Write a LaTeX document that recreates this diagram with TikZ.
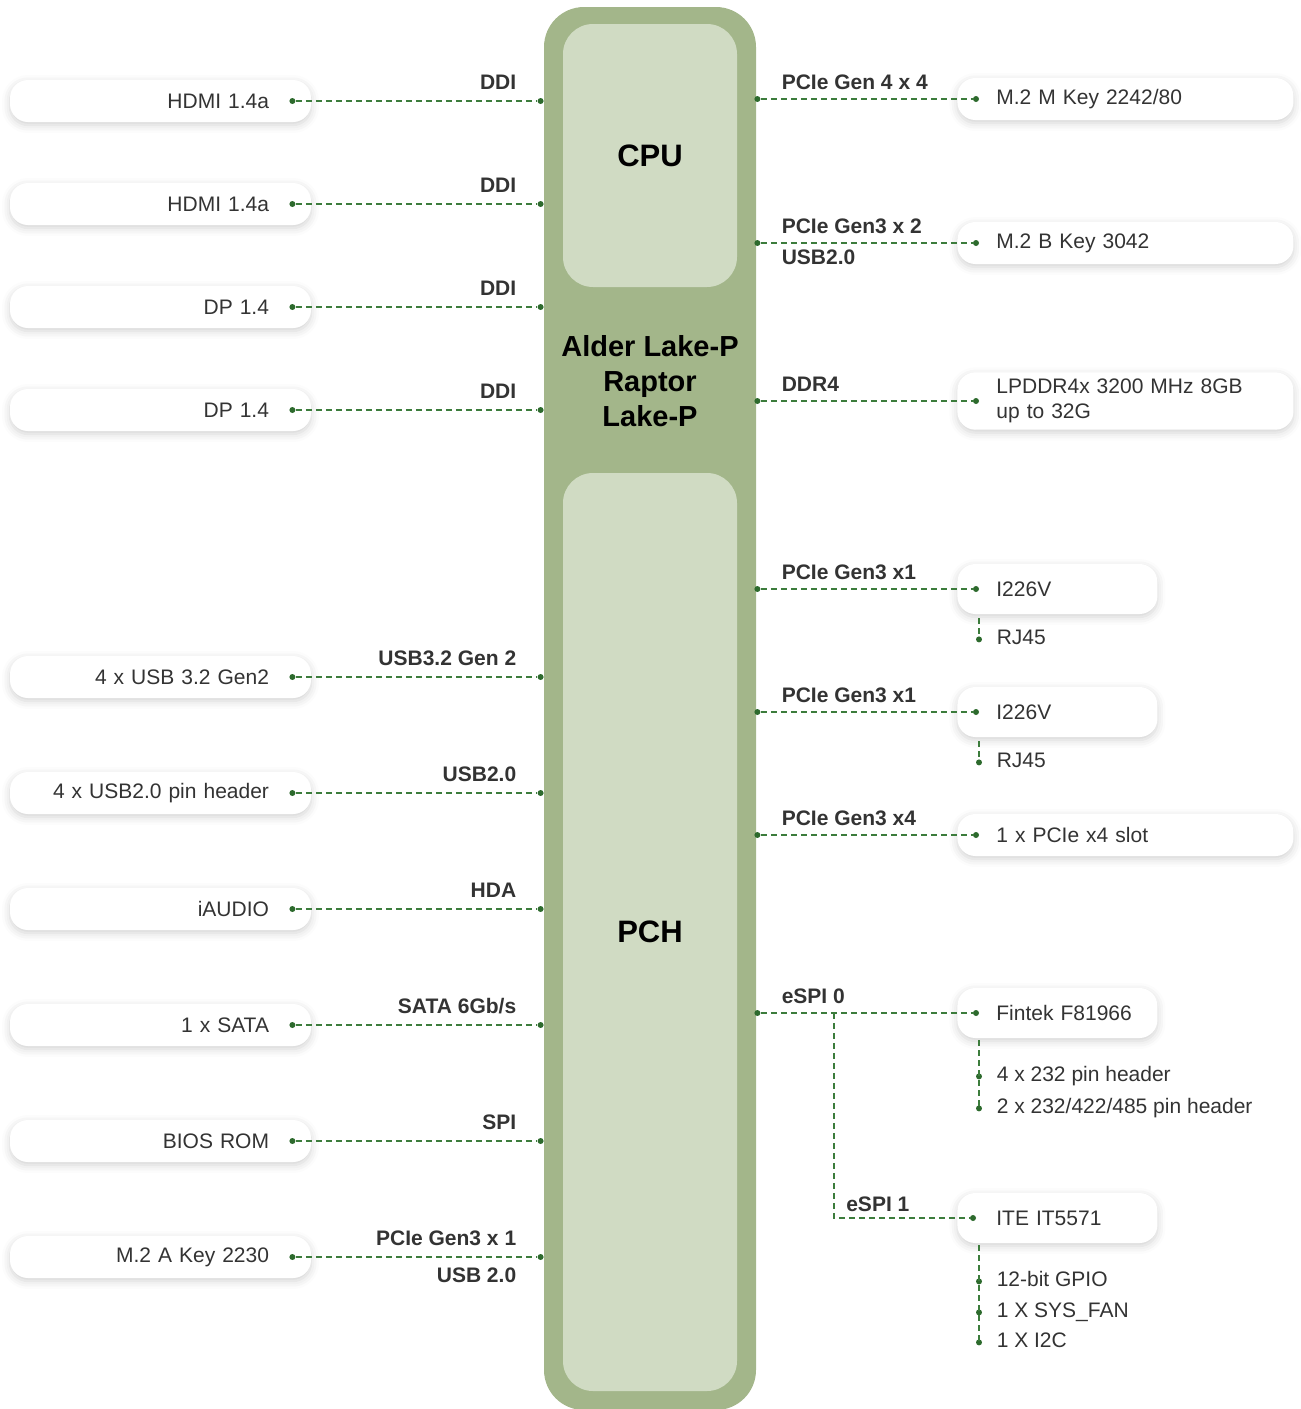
\documentclass[tikz,border=0pt]{standalone}
\usepackage{fontspec}
\setmainfont{Liberation Sans}
\usetikzlibrary{positioning,calc,shadows.blur}
\definecolor{socgreen}{HTML}{A3B68A}
\definecolor{corepale}{HTML}{D0DBC3}
\definecolor{buscol}{HTML}{3C7C3C}
\definecolor{dotcol}{HTML}{2D6A2D}
\definecolor{txtcol}{HTML}{333333}
\tikzset{
  portbox/.style={rounded corners=9pt, fill=white, text=txtcol,
    blur shadow={shadow xshift=0pt, shadow yshift=-1.5pt, shadow blur radius=4pt, shadow opacity=18},
    font=\fontsize{10.5}{12.5}\selectfont, minimum height=21pt},
  leftbox/.style={portbox, inner xsep=21pt, text width=108.5pt, align=right},
  widebox/.style={portbox, anchor=west, inner xsep=19.5pt, text width=129pt, align=left},
  narrowbox/.style={portbox, anchor=west, inner xsep=19.5pt, text width=61pt, align=left, minimum height=25pt},
  bus/.style={buscol, dash pattern=on 3pt off 2pt, line width=0.6pt},
  busname/.style={text=txtcol, inner sep=0pt, font=\bfseries\fontsize{10.5}{12.5}\selectfont},
  subitem/.style={text=txtcol, inner sep=0pt, anchor=mid west, font=\fontsize{10.5}{12.5}\selectfont},
  pin/.style={circle, fill=dotcol, inner sep=0pt, minimum size=3pt},
  coreblock/.style={fill=corepale, rounded corners=15pt, minimum width=87pt, font=\bfseries\fontsize{15.5}{18}\selectfont}
}
\begin{document}
\begin{tikzpicture}[x=0.5pt,y=-0.5pt]
  \useasboundingbox (0,0) rectangle (1301,1409);
  % SoC block
  \node[fill=socgreen, rounded corners=20pt, minimum width=106pt, minimum height=701.5pt] (soc) at (650,708.5) {};
  \node[coreblock, minimum height=131.5pt] (cpu) at (650,155.5) {CPU};
  \node[coreblock, minimum height=459pt] (pch) at (650,932) {PCH};
  \node[align=center, font=\bfseries\fontsize{14.5}{17.5}\selectfont] (socname) at (650,381) {Alder Lake-P\\Raptor\\Lake-P};

  % left side
  \foreach \i/\y/\name/\bus in {1/101/HDMI 1.4a/DDI, 2/204/HDMI 1.4a/DDI, 3/307/DP 1.4/DDI, 4/410/DP 1.4/DDI,
      5/677/4 x USB 3.2 Gen2/USB3.2 Gen 2, 6/793/4 x USB2.0 pin header/USB2.0, 7/909/iAUDIO/HDA,
      8/1025/1 x SATA/{SATA 6Gb/s}, 9/1141/BIOS ROM/SPI, 10/1257/M.2 A Key 2230/PCIe Gen3 x 1}
  {
    \node[leftbox] (lb\i) at (160.5,\y) {\name};
    \node[pin] (lp\i) at ([xshift=-9.5pt]lb\i.east) {};
    \node[pin] (sp\i) at ($(lp\i -| soc.west)+(-1.5pt,0)$) {};
    \draw[bus] (lp\i) -- (sp\i);
    \node[busname, anchor=base east] (ln\i) at ([shift={(-12pt,5.75pt)}]sp\i.center) {\bus};
  }
  \node[busname, anchor=base east] (ln11) at ([shift={(-12pt,-12.75pt)}]sp10.center) {USB 2.0};

  % right side
  \node[widebox] (rb1) at (957,99) {M.2 M Key 2242/80};
  \node[widebox] (rb2) at (957,243) {M.2 B Key 3042};
  \node[widebox] (rb3) at (957,401) {LPDDR4x 3200 MHz 8GB\\up to 32G};
  \node[narrowbox] (rb4) at (957,589) {I226V};
  \node[narrowbox] (rb5) at (957,712) {I226V};
  \node[widebox] (rb6) at (957,835) {1 x PCIe x4 slot};
  \node[narrowbox] (rb7) at (957,1013) {\mbox{Fintek F81966}};
  \node[narrowbox] (rb8) at (957,1218) {ITE IT5571};
  \foreach \i/\bus in {1/PCIe Gen 4 x 4, 2/PCIe Gen3 x 2, 3/DDR4, 4/PCIe Gen3 x1, 5/PCIe Gen3 x1, 6/PCIe Gen3 x4, 7/eSPI 0}
  {
    \node[pin] (rp\i) at ([xshift=9.5pt]rb\i.west) {};
    \node[pin] (sq\i) at ($(rp\i -| soc.east)+(0.5pt,0)$) {};
    \draw[bus] (sq\i) -- (rp\i);
    \node[busname, anchor=base west] (rn\i) at ([shift={(12pt,5pt)}]sq\i.center) {\bus};
  }
  \node[busname, anchor=base west] (rn9) at ([shift={(12pt,-10.75pt)}]sq2.center) {USB2.0};

  % eSPI 1 branch
  \coordinate (espisplit) at ($(sq7)!0.35!(rp7)$);
  \node[pin] (rp8) at ([xshift=8pt]rb8.west) {};
  \coordinate (espicorner) at (espisplit |- rp8);
  \draw[bus] (espisplit) |- (rp8);
  \node[busname, anchor=base west] (rn8) at ([shift={(6pt,3.25pt)}]espicorner) {eSPI 1};

  % RJ45 ports
  \foreach \k in {4,5}
  {
    \node[pin] (rj\k) at ([shift={(11pt,-12.5pt)}]rb\k.south west) {};
    \draw[bus] ([yshift=-2pt]rj\k |- rb\k.south) -- (rj\k);
    \node[subitem, right=7pt of rj\k, anchor=mid west] (rjt\k) {RJ45};
  }

  % Fintek and ITE outputs
  \foreach \j/\dy/\txt in {1/19pt/4 x 232 pin header, 2/35pt/{2 x 232/422/485 pin header}}
  {
    \node[pin] (fs\j) at ([shift={(11pt,-\dy)}]rb7.south west) {};
    \node[subitem, right=7pt of fs\j, anchor=mid west] (ft\j) {\txt};
  }
  \draw[bus] ([yshift=-1pt]fs2 |- rb7.south) -- (fs2.center);
  \foreach \j/\dy/\txt in {1/19pt/12-bit GPIO, 2/34.5pt/1 X SYS\_FAN, 3/49.5pt/1 X I2C}
  {
    \node[pin] (is\j) at ([shift={(11pt,-\dy)}]rb8.south west) {};
    \node[subitem, right=7pt of is\j, anchor=mid west] (it\j) {\txt};
  }
  \draw[bus] ([yshift=-1pt]is3 |- rb8.south) -- (is3.center);
\end{tikzpicture}
\end{document}
